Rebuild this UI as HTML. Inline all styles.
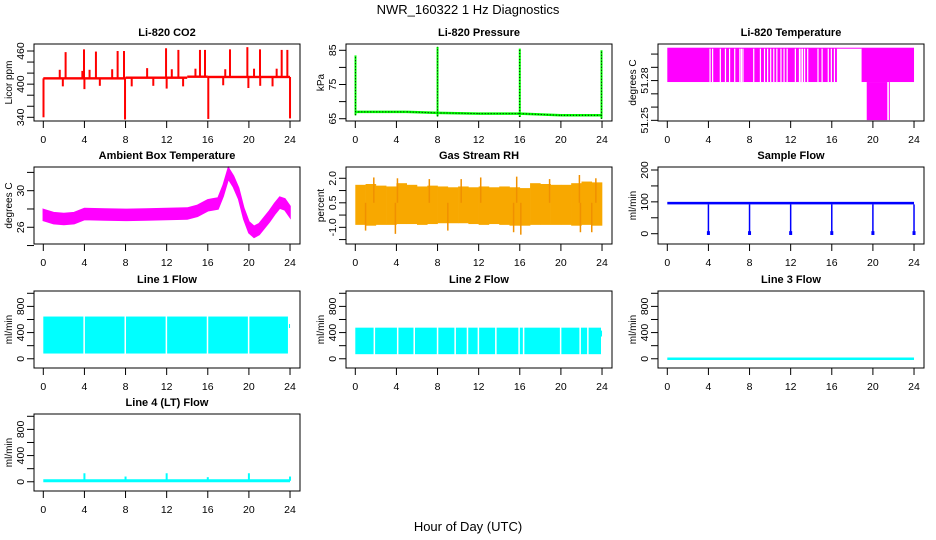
<!DOCTYPE html>
<html><head><meta charset="utf-8"><style>
html,body{margin:0;padding:0;background:#fff;}
svg{display:block;font-family:"Liberation Sans",Arial,sans-serif;}
</style></head><body>
<svg id="chart" width="936" height="540" viewBox="0 0 936 540" xmlns="http://www.w3.org/2000/svg">
<text x="468" y="14" font-size="13" text-anchor="middle">NWR_160322  1 Hz Diagnostics</text>
<text x="468" y="531" font-size="13" text-anchor="middle">Hour of Day (UTC)</text>
</svg>
<script>
// ---- data ----
const xTicks = [0,4,8,12,16,20,24];
const co2BaseHours = [0,8,14,16,24];
const co2BaseVals = [410.5,411.7,413.5,413,413];
const co2SpikeHours = [2.17,3.96,5.12,7.23,7.85,11.94,13.14,15.24,15.73,18.16,19.85,21.08,23.19,23.74,1.6,3.8,4.5,6.7,10.1,12.5,14.8,17.7,20.5,22.7,0.02,4.0,7.95,12.0,16.05,19.95,24.0,1.9,5.5,8.6,10.7,13.6,17.5,21.1,22.3];
const co2SpikeVals = [458,463,459,460,460,465,462,462,462,463,467,463,462,462,426,424,426,427,429,427,428,427,428,428,340,391,336,392,337,393,338,396,397,396,397,396,398,397,396];
const presBaseHours = [0,5,8,12,16,20,24];
const presBaseVals = [67.0,67.0,66.7,66.5,66.5,66.0,66.0];
const presSpikeHours = [0.02,8.0,16.0,23.95];
const presSpikeVals = [83.5,86.0,85.5,85.0];
const tempLevels = [51.3048,51.2789,51.2502];
const tempGapHours = [4.1,4.35,5.1,5.6,6.0,6.5,7.0,7.15,7.3,8.35,9.0,9.4,9.7,10.0,10.3,10.6,11.0,11.3,11.6,12.4,12.8,12.95,13.1,13.3,13.6,14.6,15.0,15.6,15.9,16.2];
const ambHours = [0,1,2,3,4,6,8,10,12,14,15,16,16.5,17,17.5,18,18.5,19,19.5,20,20.5,21,21.5,22,22.5,23,23.5,24];
const ambVals = [27.35,27.0,26.9,27.0,27.45,27.4,27.35,27.4,27.45,27.5,27.8,28.4,28.5,28.6,30.0,31.9,31.0,29.7,27.5,26.0,25.5,25.8,26.5,27.2,28.0,28.7,28.5,27.7];
const rhHiVals = [1.6,1.65,1.55,1.5,1.7,1.6,1.5,1.55,1.5,1.45,1.5,1.45,1.5,1.45,1.5,1.45,1.4,1.7,1.65,1.6,1.6,1.7,1.8,1.75];
const rhLoVals = [-0.85,-0.9,-0.85,-0.85,-0.8,-0.8,-0.85,-0.8,-0.75,-0.75,-0.75,-0.8,-0.85,-0.8,-0.85,-0.9,-0.9,-0.85,-0.85,-0.85,-0.85,-0.9,-0.85,-0.9];
const rhSpikeHours = [1.8,4.1,7.2,10.3,12.2,15.7,18.9,21.8,23.4,1.0,3.9,9.0,15.4,16.1,21.9,23.0];
const rhSpikeVals = [2.05,2.0,1.95,1.95,2.05,2.1,1.95,2.2,2.0,-1.2,-1.4,-1.2,-1.3,-1.45,-1.3,-1.3];
const sampleBase = [92,100];
const sampleDipHours = [4,8,12,16,20,24];
const sampleDipVals = [0,0,0,0,0,0];
const line1Band = [80,645];
const line1GapHours = [3.9,7.9,11.9,15.9,19.9,23.8];
const line2Band = [70,475];
const line2GapHours = [1.78,4.05,5.66,7.93,9.64,10.84,11.9,13.6,15.86,16.3,19.9,21.8,22.55];
const line3Vals = [0,0];
const line4Base = 15;
const line4SpikeHours = [4,8,12,16,20,24];
const line4SpikeVals = [130,80,130,70,130,80];

// ---- layout ----
const svg = document.getElementById('chart');
const NS = 'http://www.w3.org/2000/svg';
const colLeft = [34,346,658];
const rowTop = [44,167,291,414];
const BW = 266, BH = 77;
function mk(tag, attrs, parent){
  const e = document.createElementNS(NS, tag);
  for (const k in attrs) e.setAttribute(k, attrs[k]);
  (parent||svg).appendChild(e);
  return e;
}
function makePanel(col,row,title,ylab,ylim,ticks,labels,key){
  const L = colLeft[col], T = rowTop[row];
  const g = mk('g',{});
  
  
  const xs = h => L + 9.3 + h*10.28;
  const ys = v => T + (ylim[1]-v)/(ylim[1]-ylim[0])*BH;
  const t = mk('text',{x:L+BW/2,y:T-8,'font-size':11,'font-weight':'bold','text-anchor':'middle'},g);
  t.textContent = title;
  
  
  const yl = mk('text',{x:0,y:0,'font-size':10,'text-anchor':'middle',transform:`translate(${L-22},${T+BH/2}) rotate(-90)`},g);
  yl.textContent = ylab;
  
  
  const plot = mk('g',{},g);
  
  
  xTicks.forEach(h=>{
    const tk = mk('line',{x1:xs(h),x2:xs(h),y1:T+BH,y2:T+BH+7,stroke:'#000','stroke-width':1},g);
    
    
    const tl = mk('text',{x:xs(h),y:T+BH+22,'font-size':10.5,'text-anchor':'middle'},g);
    tl.textContent = h;
    
    
  });
  ticks.forEach(v=>{
    const tk = mk('line',{x1:L-7,x2:L,y1:ys(v),y2:ys(v),stroke:'#000','stroke-width':1},g);
    
    
  });
  labels.forEach(s=>{
    const tl = mk('text',{x:0,y:0,'font-size':10.5,'text-anchor':'middle',transform:`translate(${L-10},${ys(parseFloat(s))}) rotate(-90)`},g);
    tl.textContent = s;
    
    
  });
  const box = mk('rect',{x:L,y:T,width:BW,height:BH,fill:'none',stroke:'#000','stroke-width':1},g);
  
  
  return {xs,ys,plot,g};
}
function vline(p,x,y1,y2,color,w,name,dash){
  const a = {x1:x,x2:x,y1:y1,y2:y2,stroke:color,'stroke-width':w};
  if (dash) a['stroke-dasharray'] = dash;
  const e = mk('line',a,p.plot);
  
  
  return e;
}
function rect(p,x1,x2,y1,y2,fill,name){
  const e = mk('rect',{x:Math.min(x1,x2),y:Math.min(y1,y2),width:Math.abs(x2-x1),height:Math.max(1,Math.abs(y2-y1)),fill:fill},p.plot);
  
  
  return e;
}
function stepBase(hours,vals,h){ let v=vals[0]; for(let i=0;i<hours.length;i++){ if(h>=hours[i]) v=vals[i]; } return v; }

// ---- CO2 ----
{
  const p = makePanel(0,0,'Li-820 CO2','Licor ppm',[333.3,472.7],[340,360,380,400,420,440,460],['340','400','460'],'co2');
  for(let i=0;i<co2BaseHours.length-1;i++){
    rect(p,p.xs(co2BaseHours[i]),p.xs(co2BaseHours[i+1]),p.ys(co2BaseVals[i])-1.2,p.ys(co2BaseVals[i])+1.2,'#ff0000','co2-baseline');
  }
  co2SpikeHours.forEach((h,i)=>{
    const b = stepBase(co2BaseHours,co2BaseVals,h);
    vline(p,p.xs(h),p.ys(b),p.ys(co2SpikeVals[i]),'#ff0000',2,'co2-spike');
  });
}
// ---- Pressure ----
{
  const p = makePanel(1,0,'Li-820 Pressure','kPa',[64.33,86.84],[65,70,75,80,85],['65','75','85'],'pressure');
  for(let i=0;i<presBaseHours.length-1;i++){
    const y1=p.ys(presBaseVals[i]), y2=p.ys(presBaseVals[i+1]);
    const e = mk('line',{x1:p.xs(presBaseHours[i]),x2:p.xs(presBaseHours[i+1]),y1:y1,y2:y2,stroke:'#00ff00','stroke-width':2.5},p.plot);
    
    
    const d = mk('line',{x1:p.xs(presBaseHours[i]),x2:p.xs(presBaseHours[i+1]),y1:y1,y2:y2,stroke:'#000','stroke-width':1,'stroke-dasharray':'1 2'},p.plot);
    
    
  }
  presSpikeHours.forEach((h,i)=>{
    const b = stepBase(presBaseHours,presBaseVals,h);
    vline(p,p.xs(h),p.ys(b-1),p.ys(presSpikeVals[i]),'#00ff00',2,'pressure-spike');
    vline(p,p.xs(h),p.ys(b-1),p.ys(presSpikeVals[i]),'#000',1,'pressure-spike-dots','1 2');
  });
}
// ---- Li-820 Temperature ----
{
  const p = makePanel(2,0,'Li-820 Temperature','degrees C',[51.2495,51.3076],[51.25,51.26,51.27,51.28,51.29,51.30],['51.25','51.28'],'li820-temp');
  const yH=p.ys(tempLevels[0]), yM=p.ys(tempLevels[1]), yL=p.ys(tempLevels[2]);
  rect(p,p.xs(0),p.xs(16.5),yH,yM,'#ff00ff','temp-fill');
  tempGapHours.forEach(h=>{ rect(p,p.xs(h),p.xs(h)+1.2,yH+1,yM,'#ffffff','temp-gap'); });
  rect(p,p.xs(16.5),p.xs(18.9),yH,yH+1,'#ff00ff','temp-flat-line');
  rect(p,p.xs(18.9),p.xs(24),yH,yM,'#ff00ff','temp-fill-late');
  rect(p,p.xs(19.4),p.xs(21.4),yM,yL,'#ff00ff','temp-fill-low');
  vline(p,p.xs(21.6),yM,yL,'#ff00ff',1,'temp-low-spike');
}
// ---- Ambient ----
{
  const p = makePanel(0,1,'Ambient Box Temperature','degrees C',[24.17,32.59],[24,26,28,30,32],['26','30'],'ambient');
  let up='', dn='';
  ambHours.forEach((h,i)=>{ up += (i?'L':'M')+p.xs(h)+','+p.ys(ambVals[i]+0.6)+' '; });
  for(let i=ambHours.length-1;i>=0;i--){ dn += 'L'+p.xs(ambHours[i])+','+p.ys(ambVals[i]-0.6)+' '; }
  const e = mk('path',{d:up+dn+'Z',fill:'#ff00ff',stroke:'#ff00ff','stroke-width':1.5},p.plot);
  
  
}
// ---- Gas Stream RH ----
{
  const p = makePanel(1,1,'Gas Stream RH','percent',[-2.02,2.69],[-1.75,-1.0,-0.25,0.5,1.25,2.0],['-1.0','0.5','2.0'],'rh');
  rhHiVals.forEach((v,i)=>{ rect(p,p.xs(i),p.xs(i+1)+0.3,p.ys(v),p.ys(rhLoVals[i]),'#f8a800','rh-band'); });
  rhSpikeHours.forEach((h,i)=>{ vline(p,p.xs(h),p.ys(0.5),p.ys(rhSpikeVals[i]),'#f09000',1.5,'rh-spike'); });
}
// ---- Sample Flow ----
{
  const p = makePanel(2,1,'Sample Flow','ml/min',[-32.3,209.4],[0,50,100,150,200],['0','100','200'],'sample-flow');
  rect(p,p.xs(0),p.xs(24),p.ys(sampleBase[1]),p.ys(sampleBase[0]),'#0000ff','sample-flow-band');
  sampleDipHours.forEach((h,i)=>{
    vline(p,p.xs(h),p.ys(sampleBase[0]),p.ys(sampleDipVals[i]),'#0000ff',1.5,'sample-flow-dip');
    rect(p,p.xs(h)-1.5,p.xs(h)+1.5,p.ys(sampleDipVals[i]+8),p.ys(sampleDipVals[i]-4),'#0000ff','sample-flow-dip-end');
  });
}
// ---- Line flows ----
function flowPanel(col,row,title,key){
  return makePanel(col,row,title,'ml/min',[-141,1035],[0,200,400,600,800,1000],['0','400','800'],key);
}
{
  const p = flowPanel(0,2,'Line 1 Flow','line1');
  rect(p,p.xs(0),p.xs(23.8),p.ys(line1Band[1]),p.ys(line1Band[0]),'#00ffff','line1-band');
  line1GapHours.forEach(h=>{ rect(p,p.xs(h),p.xs(h)+1.5,p.ys(line1Band[1])-1,p.ys(line1Band[0])+1,'#ffffff','line1-gap'); });
  rect(p,p.xs(23.9),p.xs(24),p.ys(530),p.ys(470),'#00ffff','line1-end');
}
{
  const p = flowPanel(1,2,'Line 2 Flow','line2');
  rect(p,p.xs(0),p.xs(23.9),p.ys(line2Band[1]),p.ys(line2Band[0]),'#00ffff','line2-band');
  line2GapHours.forEach(h=>{ rect(p,p.xs(h),p.xs(h)+1.5,p.ys(line2Band[1])-1,p.ys(line2Band[0])+1,'#ffffff','line2-gap'); });
  rect(p,p.xs(23.9),p.xs(24),p.ys(430),p.ys(340),'#00ffff','line2-end');
}
{
  const p = flowPanel(2,2,'Line 3 Flow','line3');
  const e = mk('line',{x1:p.xs(0),x2:p.xs(24),y1:p.ys(line3Vals[0]),y2:p.ys(line3Vals[1]),stroke:'#00ffff','stroke-width':2.5},p.plot);
  
  
}
{
  const p = flowPanel(0,3,'Line 4 (LT) Flow','line4');
  const e = mk('line',{x1:p.xs(0),x2:p.xs(24),y1:p.ys(line4Base),y2:p.ys(line4Base),stroke:'#00ffff','stroke-width':3},p.plot);
  
  
  line4SpikeHours.forEach((h,i)=>{ vline(p,p.xs(h),p.ys(line4Base),p.ys(line4SpikeVals[i]),'#00ffff',2,'line4-spike'); });
}
</script>
</body></html>
